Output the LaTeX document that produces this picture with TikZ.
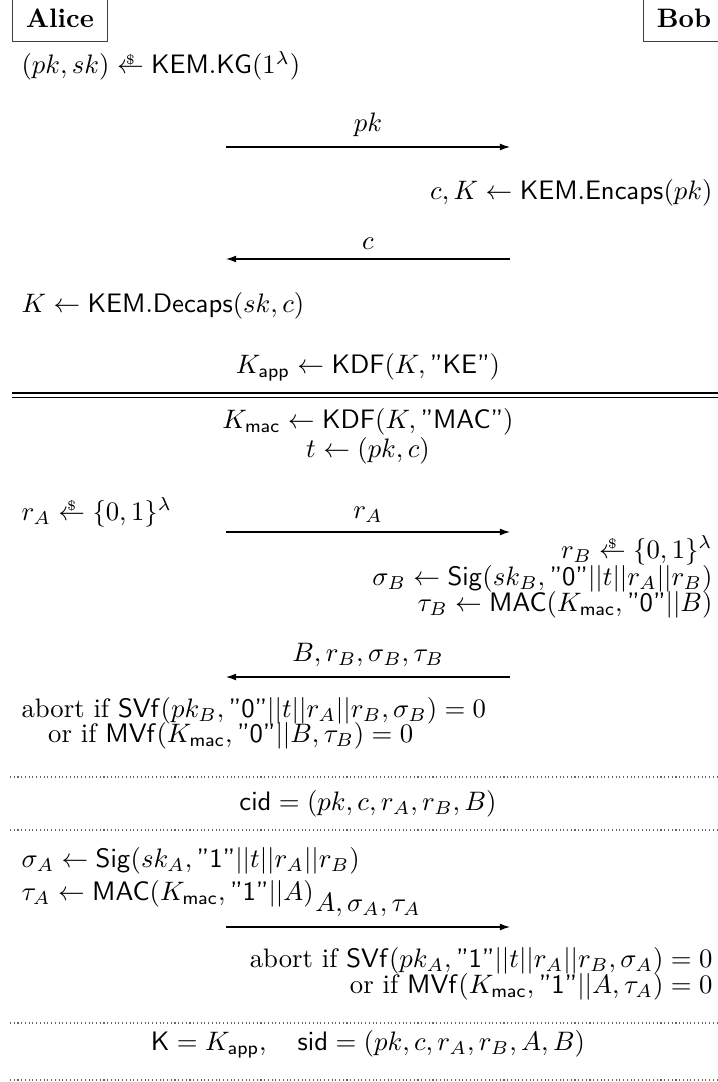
\documentclass[tikz,border=0pt]{standalone}
\usepackage{amsmath,amssymb}
\usepackage{tikz}
\usetikzlibrary{positioning, calc, arrows.meta}
\newcommand{\samp}{\mathrel{\ooalign{$\leftarrow$\cr\hidewidth\raisebox{3.6pt}{$\scriptscriptstyle\$$}\hidewidth\cr}}}
\newcommand{\str}[1]{\text{\sffamily "#1"}}
\tikzset{
  party/.style={rectangle, draw=black!75, line width=0.4pt, inner sep=5pt,
                text depth=0pt, font=\bfseries},
  lineL/.style={anchor=base west, inner sep=0pt},
  lineR/.style={anchor=base east, inner sep=0pt},
  lineC/.style={anchor=base, inner sep=0pt},
  msgLbl/.style={above=3.5pt, inner sep=0pt},
  msg/.style={-{Latex[length=3.8pt,width=2.6pt]}, line width=0.45pt},
  sepDot/.style={densely dotted, line width=0.4pt, black!60},
}

\begin{document}
\begin{tikzpicture}[x=0.3745pt, y=-0.3745pt]
    \useasboundingbox (0,0) rectangle (717,1082);

    \node[party, anchor=base west] (alice) at (12,28) {Alice};
    \node[party, anchor=base west] (bob) at (643,28) {Bob};

    \node[lineL] (keygen) at (21,74) {$(pk,sk)\samp\mathsf{KEM.KG}(1^{\lambda})$};

    \coordinate (pkA) at (226,147);
    \coordinate (pkB) at (510,147);
    \draw[msg] (pkA) -- node[msgLbl] (pkLbl) {$pk$} (pkB);

    \node[lineR] (encaps) at (713,200) {$c,K\leftarrow\mathsf{KEM.Encaps}(pk)$};

    \coordinate (ctB) at (510,259);
    \coordinate (ctA) at (226,259);
    \draw[msg] (ctB) -- node[msgLbl] (ctLbl) {$c$} (ctA);

    \node[lineL] (decaps) at (21,312) {$K\leftarrow\mathsf{KEM.Decaps}(sk,c)$};

    \node[lineC] (kapp) at (368,373) {$K_{\mathsf{app}}\leftarrow\mathsf{KDF}(K,\str{KE})$};

    \draw[line width=0.9pt] (12,393) -- (724,393);
    \draw[line width=0.45pt] (12,397.5) -- (724,397.5);

    \node[lineC] (kmac) at (368,428) {$K_{\mathsf{mac}}\leftarrow\mathsf{KDF}(K,\str{MAC})$};
    \node[lineC] (trans) at (368,457) {$t\leftarrow(pk,c)$};

    \node[lineL] (nonceA) at (21,520) {$r_A\samp\{0,1\}^{\lambda}$};

    \coordinate (rAA) at (226,532);
    \coordinate (rAB) at (510,532);
    \draw[msg] (rAA) -- node[msgLbl] (rALbl) {$r_A$} (rAB);

    \node[lineR] (nonceB) at (713,558) {$r_B\samp\{0,1\}^{\lambda}$};
    \node[lineR] (sigB) at (713,585) {$\sigma_B\leftarrow\mathsf{Sig}(sk_B,\str{0}||t||r_A||r_B)$};
    \node[lineR] (tauB) at (713,611) {$\tau_B\leftarrow\mathsf{MAC}(K_{\mathsf{mac}},\str{0}||B)$};

    \coordinate (respB) at (510,677);
    \coordinate (respA) at (226,677);
    \draw[msg] (respB) -- node[msgLbl] (respLbl) {$B,r_B,\sigma_B,\tau_B$} (respA);

    \node[lineL] (chkA1) at (21,717) {abort if $\mathsf{SVf}(pk_B,\str{0}||t||r_A||r_B,\sigma_B)=0$};
    \node[lineL] (chkA2) at (21,742) {\quad or if $\mathsf{MVf}(K_{\mathsf{mac}},\str{0}||B,\tau_B)=0$};

    \draw[sepDot] (10,777) -- (724,777);
    \node[lineC] (cid) at (368,810) {$\mathsf{cid}=(pk,c,r_A,r_B,B)$};
    \draw[sepDot] (10,830) -- (724,830);

    \node[lineL] (sigA) at (21,867) {$\sigma_A\leftarrow\mathsf{Sig}(sk_A,\str{1}||t||r_A||r_B)$};
    \node[lineL] (tauA) at (21,900) {$\tau_A\leftarrow\mathsf{MAC}(K_{\mathsf{mac}},\str{1}||A)$};

    \coordinate (finA) at (226,927);
    \coordinate (finB) at (510,927);
    \draw[msg] (finA) -- node[msgLbl] (finLbl) {$A,\sigma_A,\tau_A$} (finB);

    \node[lineR] (chkB1) at (713,967) {abort if $\mathsf{SVf}(pk_A,\str{1}||t||r_A||r_B,\sigma_A)=0$};
    \node[lineR] (chkB2) at (713,993) {or if $\mathsf{MVf}(K_{\mathsf{mac}},\str{1}||A,\tau_A)=0$};

    \draw[sepDot] (10,1023) -- (724,1023);
    \node[lineC] (result) at (368,1050) {$\mathsf{K}=K_{\mathsf{app}},\quad\mathsf{sid}=(pk,c,r_A,r_B,A,B)$};
    \draw[sepDot] (10,1080) -- (724,1080);
\end{tikzpicture}
\end{document}
